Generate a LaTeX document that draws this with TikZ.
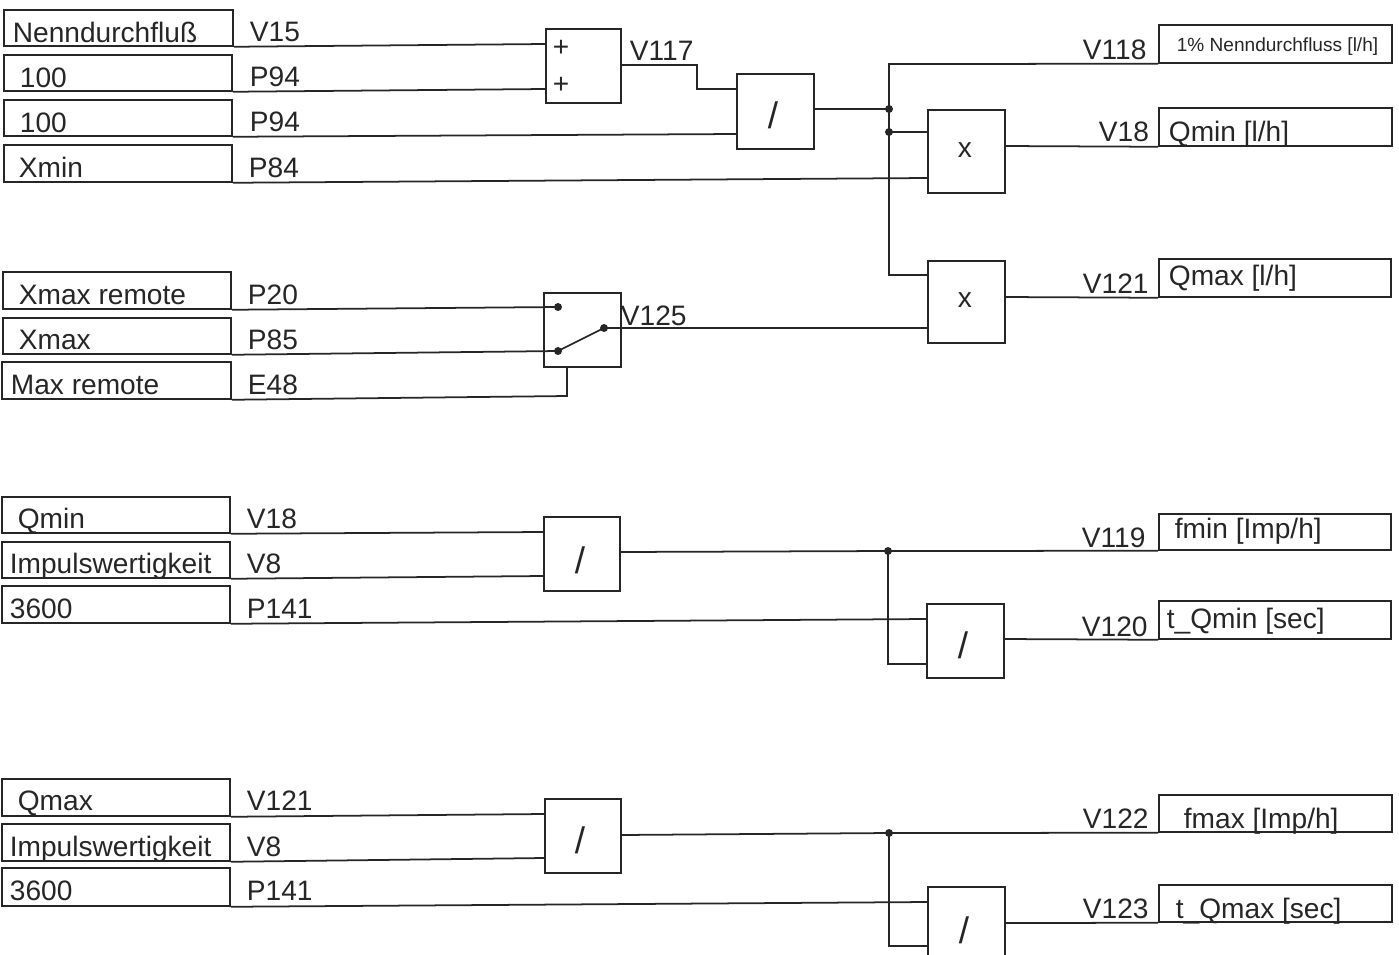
\documentclass[tikz,border=0pt]{standalone}
\usepackage{fontspec}
\setmainfont{Liberation Sans}
\usepackage{tikz}
\usetikzlibrary{calc}

\begin{document}
\begin{tikzpicture}[x=0.02cm, y=-0.02cm, line width=1pt, draw=black!85,
  dot/.style={circle,fill=black!85,inner sep=1.6pt},
  fbox/.style 2 args={draw,rectangle,inner sep=0pt,anchor=north west,minimum width=#1*0.02cm,minimum height=#2*0.02cm},
  lbl/.style={anchor=base west,inner sep=0pt,text=black!85,font=\fontsize{16}{18}\selectfont},
  sym/.style={anchor=center,inner sep=0pt,text=black!85,font=\fontsize{16}{18}\selectfont}]
\useasboundingbox (0,0) rectangle (1399,954);

% input boxes
\foreach \n/\x/\y/\w/\h in {a1/3/9/229/36, a2/3/54/228/36, a3/3/99/228/36, a4/3/144/228/37,
  b1/2/271/228/37, b2/2/317/228/36, b3/1/361/229/37,
  c1/1/496/228/36, c2/1/541/228/36, c3/1/585/228/37,
  d1/1/778/228/37, d2/1/823/228/37, d3/1/867/228/38}{
  \node[fbox={\w}{\h}] (\n) at (\x,\y) {};
}
% output boxes
\foreach \n/\x/\y/\w/\h in {o1/1158/24/233/38, o2/1158/107/233/38, o3/1158/258/232/38,
  o4/1158/513/232/36, o5/1158/600/232/38, o6/1158/794/233/37, o7/1158/884/233/37}{
  \node[fbox={\w}{\h}] (\n) at (\x,\y) {};
}
% function blocks
\foreach \n/\x/\y/\w/\h in {add/545/28/75/74, sw/543/292/77/74, div1/736/73/77/75,
  mul1/927/109/77/83, mul2/927/260/77/82, div2/543/516/76/74, div3/926/603/77/74,
  div4/544/798/76/74, div5/927/886/77/80}{
  \node[fbox={\w}{\h}] (\n) at (\x,\y) {};
}

% box texts
\foreach \n/\x/\y/\t in {ta1/12/42/Nenndurchflu{\ss}, ta2/19/87/100, ta3/19/132/100, ta4/18/177/Xmin,
  tb1/18/304/Xmax remote, tb2/18/349/Xmax, tb3/10/394/Max remote,
  tc1/17/528/Qmin, tc2/9/573/Impulswertigkeit, tc3/9/618/3600,
  td1/17/810/Qmax, td2/9/856/Impulswertigkeit, td3/9/900/3600,
  to2/1168/141/{Qmin [l/h]}, to3/1168/285/{Qmax [l/h]}, to4/1174/538/{fmin [Imp/h]},
  to5/1166/628/{t\_Qmin [sec]}, to6/1183/828/{fmax [Imp/h]}, to7/1175/918/{t\_Qmax [sec]}}{
  \node[lbl] (\n) at (\x,\y) {\t};
}
\node[lbl,font=\fontsize{10.85}{12}\selectfont] (to1) at (1176,51) {1\% Nenndurchfluss [l/h]};

% variable names
\foreach \n/\x/\y/\t in {va1/249/41/V15, va2/249/86/P94, va3/249/131/P94, va4/248/177/P84,
  vb1/247/304/P20, vb2/247/349/P85, vb3/247/394/E48,
  vc1/246/528/V18, vc2/246/573/V8, vc3/246/618/P141,
  vd1/246/810/V121, vd2/246/856/V8, vd3/246/900/P141,
  v117/629/60/V117, v125/620/325/V125,
  v118/1082/59/V118, v18/1098/141/V18, v121/1082/293/V121, v119/1081/547/V119,
  v120/1081/636/V120, v122/1082/828/V122, v123/1082/918/V123}{
  \node[lbl] (\n) at (\x,\y) {\t};
}

% block symbols
\node[sym] (p1) at (561,48) {+};
\node[sym] (p2) at (561,85) {+};
\node[sym] (x1) at (965,150) {x};
\node[sym] (x2) at (965,300) {x};
\foreach \n/\x/\y in {s1/773/115, s2/580/560, s3/963/645, s4/580/840, s5/964/930}{
  \node[sym,font=\fontsize{21}{24}\selectfont] (\n) at (\x,\y) {/};
}

% dots
\foreach \n/\x/\y in {j1/889/109, j2/889/132, j3/888/551, j4/889/833,
  k1/558/307, k2/558/351, k3/604/328}{
  \node[dot] (\n) at (\x,\y) {};
}

% pins
\coordinate (add1) at (545,44);
\coordinate (add2) at (545,89);
\coordinate (addo) at (620,65);
\coordinate (div1a) at (736,89);
\coordinate (div1b) at (736,134);
\coordinate (div1o) at (813,109);
\coordinate (mul1a) at (927,132);
\coordinate (mul1b) at (927,178);
\coordinate (mul1o) at (1004,146);
\coordinate (mul2a) at (927,275);
\coordinate (mul2b) at (927,328);
\coordinate (mul2o) at (1004,297);
\coordinate (swb) at (567,366);
\coordinate (div2a) at (543,532);
\coordinate (div2b) at (543,576);
\coordinate (div2o) at (619,552);
\coordinate (div3a) at (926,619);
\coordinate (div3b) at (926,664);
\coordinate (div3o) at (1003,639);
\coordinate (div4a) at (544,814);
\coordinate (div4b) at (544,858);
\coordinate (div4o) at (620,835);
\coordinate (div5a) at (927,902);
\coordinate (div5b) at (927,946);
\coordinate (div5o) at (1004,923);

% edges, first group
\draw (a1.south east)--(add1);
\draw (a2.south east)--(add2);
\draw (addo)--(697,65)--(697,89)--(div1a);
\draw (a3.south east)--(div1b);
\draw (a4.south east)--(mul1b);
\draw (div1o)--(j1.center);
\draw (o1.south west)--(889,64)--(889,275)--(mul2a);
\draw (j2.center)--(mul1a);
\draw (mul1o)--(o2.south west);
\draw (mul2o)--(o3.south west);
% switch
\draw (b1.south east)--(k1.center);
\draw (b2.south east)--(k2.center);
\draw (k2.center)--(k3.center);
\draw (k3.center)--(mul2b);
\draw (b3.south east)--(567,396)--(swb);
% second group
\draw (c1.south east)--(div2a);
\draw (c2.south east)--(div2b);
\draw (c3.south east)--(div3a);
\draw (div2o)--(j3.center)--(o4.south west);
\draw (j3.center)--(888,664)--(div3b);
\draw (div3o)--(o5.south west);
% third group
\draw (d1.south east)--(div4a);
\draw (d2.south east)--(div4b);
\draw (d3.south east)--(div5a);
\draw (div4o)--(j4.center)--(o6.south west);
\draw (j4.center)--(889,946)--(div5b);
\draw (div5o)--(o7.south west);
\end{tikzpicture}
\end{document}
